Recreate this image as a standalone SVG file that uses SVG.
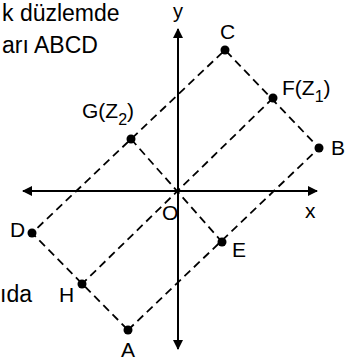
<svg xmlns="http://www.w3.org/2000/svg" width="356" height="364" viewBox="0 0 356 364">
<style>
text{font-family:"Liberation Sans",Arial,sans-serif;font-size:21px;fill:#000}
.t{font-size:23px}
.sub{font-size:16px}
.d{stroke:#000;stroke-width:1.8;stroke-dasharray:8 5;fill:none}
.ax{stroke:#000;stroke-width:2;fill:none}
.p{fill:#000}
</style>
<defs>
<marker id="ah" viewBox="0 0 10 10" refX="9" refY="5" markerWidth="6" markerHeight="5" orient="auto" markerUnits="strokeWidth"><path d="M0,0 L10,5 L0,10 z" fill="#000"/></marker>
</defs>
<rect width="356" height="364" fill="#fff"/>
<g id="title">
<text class="t" x="2" y="21">k düzlemde</text>
<text class="t" x="2" y="53">arı ABCD</text>
<text class="t" x="0" y="302">ıda</text>
</g>
<g id="connectors">
<line class="ax" x1="178" y1="191" x2="178" y2="29" marker-end="url(#ah)"/>
<line class="ax" x1="178" y1="191" x2="178" y2="349" marker-end="url(#ah)"/>
<line class="ax" x1="178" y1="191" x2="317" y2="191" marker-end="url(#ah)"/>
<line class="ax" x1="178" y1="191" x2="23" y2="191" marker-end="url(#ah)"/>
<path class="d" d="M128,330 L319,148 L225,50 L32,233 Z"/>
<line class="d" x1="273" y1="98" x2="82" y2="284"/>
<line class="d" x1="131" y1="139" x2="222" y2="242"/>
</g>
<g id="axis-labels">
<text x="173" y="18" style="font-size:20px">y</text>
<text x="305" y="218">x</text>
</g>
<g id="O"><text x="162" y="220">O</text></g>
<g id="A"><circle class="p" cx="128" cy="330" r="4.5"/><text x="121" y="357">A</text></g>
<g id="B"><circle class="p" cx="319" cy="148" r="4.5"/><text x="331" y="155">B</text></g>
<g id="C"><circle class="p" cx="225" cy="50" r="4.5"/><text x="220" y="39">C</text></g>
<g id="D"><circle class="p" cx="32" cy="233" r="4.5"/><text x="10" y="237">D</text></g>
<g id="E"><circle class="p" cx="222" cy="242" r="4.5"/><text x="232" y="257">E</text></g>
<g id="F"><circle class="p" cx="273" cy="98" r="4.5"/><text x="282" y="95">F(Z<tspan class="sub" dy="7">1</tspan><tspan dy="-7">)</tspan></text></g>
<g id="G"><circle class="p" cx="131" cy="139" r="4.5"/><text x="82" y="118">G(Z<tspan class="sub" dy="7">2</tspan><tspan dy="-7">)</tspan></text></g>
<g id="H"><circle class="p" cx="82" cy="284" r="4.5"/><text x="59" y="302">H</text></g>
</svg>
